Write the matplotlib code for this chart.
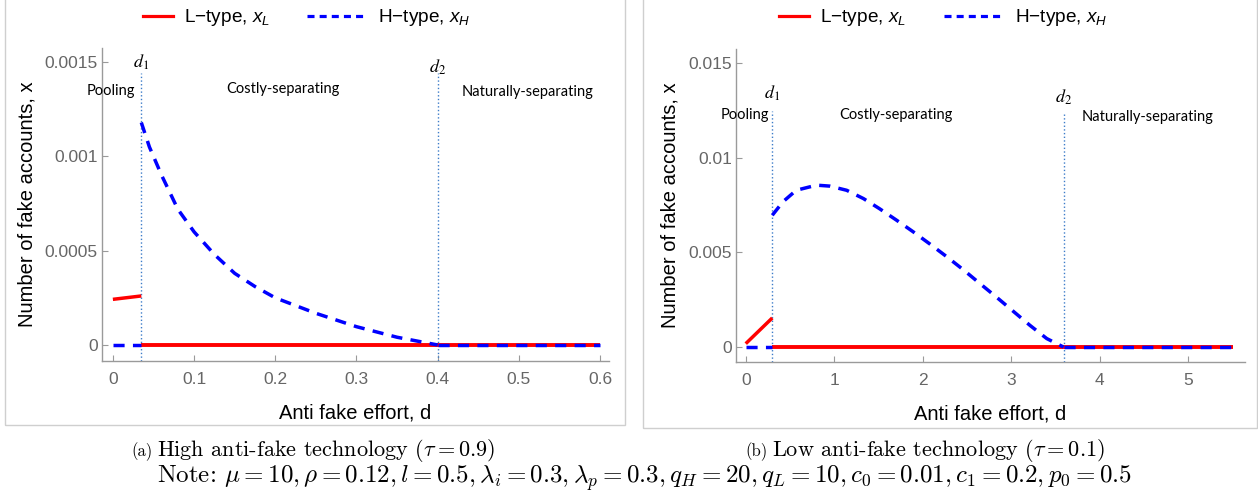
import matplotlib
matplotlib.use("Agg")
import matplotlib.pyplot as plt
from matplotlib.patches import Rectangle

# ---- data ----
# (a) high anti-fake technology, tau = 0.9
a_d1 = 0.035
a_d2 = 0.4
a_dmax = 0.6
a_L_pool_d = [0.0, 0.035]
a_L_pool_x = [0.000242, 0.00026]
a_H_cost_d = [0.035, 0.045, 0.06, 0.08, 0.10, 0.125, 0.15, 0.175, 0.20, 0.25, 0.30, 0.35, 0.40]
a_H_cost_x = [0.00118, 0.00105, 0.00090, 0.00072, 0.00060, 0.00048, 0.00038, 0.00031,
              0.00025, 0.000168, 0.000097, 0.000041, 0.0]
a_yticks = [0, 0.0005, 0.001, 0.0015]
a_yticklabels = ["0", "0.0005", "0.001", "0.0015"]
a_xticks = [0, 0.1, 0.2, 0.3, 0.4, 0.5, 0.6]
a_xticklabels = ["0", "0.1", "0.2", "0.3", "0.4", "0.5", "0.6"]

# (b) low anti-fake technology, tau = 0.1
b_d1 = 0.3
b_d2 = 3.59
b_dmax = 5.5
b_L_pool_d = [0.0, 0.3]
b_L_pool_x = [0.00018, 0.00154]
b_H_cost_d = [0.30, 0.42, 0.57, 0.80, 0.95, 1.14, 1.33, 1.51, 1.70, 1.89, 2.08, 2.27,
              2.46, 2.64, 2.83, 3.02, 3.21, 3.40, 3.59]
b_H_cost_x = [0.00697, 0.00768, 0.00829, 0.00856, 0.00851, 0.00829, 0.00785, 0.00732,
              0.00672, 0.00610, 0.00545, 0.00478, 0.00408, 0.00338, 0.00265, 0.00190,
              0.00115, 0.00045, 0.0]
b_yticks = [0, 0.005, 0.01, 0.015]
b_yticklabels = ["0", "0.005", "0.01", "0.015"]
b_xticks = [0, 1, 2, 3, 4, 5]
b_xticklabels = ["0", "1", "2", "3", "4", "5"]

regions = ["Pooling", "Costly-separating", "Naturally-separating"]

RED = "#ff0000"
BLUE = "#0000ff"
VLINE = "#3d7cc9"
GRAY = "#666666"
SANS = "Liberation Sans"

W, H = 1258, 495
fig = plt.figure(figsize=(W / 100, H / 100), dpi=100)


def px_box(x0, y0, x1, y1):
    # figure-fraction rectangle from pixel corners (top-left origin)
    return [x0 / W, 1 - y1 / H, (x1 - x0) / W, (y1 - y0) / H]


def panel(ax, d1, d2, dmax, Ld, Lx, Hd, Hx, xlim, ylim, xticks, xtl, yticks, ytl,
          lab_y, dlab_y, line_top, reg_x):
    dash = (3.2, 2.4)
    # L-type
    ax.plot(Ld, Lx, color=RED, lw=2.5, solid_capstyle="butt", zorder=3)
    ax.plot([d1, dmax], [0, 0], color=RED, lw=2.8, solid_capstyle="butt", zorder=3)
    # H-type
    ax.plot([0, d1], [0, 0], color=BLUE, lw=2.5, dashes=dash, zorder=4)
    ax.plot(Hd, Hx, color=BLUE, lw=2.5, dashes=dash, zorder=4)
    ax.plot([d2, dmax], [0, 0], color=BLUE, lw=2.5, dashes=dash, zorder=4)
    # thresholds
    for d, top in zip([d1, d2], line_top):
        ax.plot([d, d], [ylim[0], top], color=VLINE, lw=1.0, ls=":", zorder=2)
    ax.text(d1, dlab_y[0], r"$d_1$", ha="center", va="center", fontsize=13,
            math_fontfamily="stix")
    ax.text(d2, dlab_y[1], r"$d_2$", ha="center", va="center", fontsize=13,
            math_fontfamily="stix")
    for name, x, y in zip(regions, reg_x, lab_y):
        ax.text(x, y, name, ha="center", va="center", fontsize=10.5,
                family="Lato", clip_on=False)

    ax.set_xlim(*xlim)
    ax.set_ylim(*ylim)
    ax.set_xticks(xticks)
    ax.set_xticklabels(xtl)
    ax.set_yticks(yticks)
    ax.set_yticklabels(ytl)
    for s in ["top", "right"]:
        ax.spines[s].set_visible(False)
    for s in ["left", "bottom"]:
        ax.spines[s].set_color("#9a9a9a")
        ax.spines[s].set_linewidth(1.0)
    ax.tick_params(direction="in", length=4, width=0.8, color="#9a9a9a",
                   labelcolor=GRAY, labelsize=12.5)
    ax.tick_params(axis="x", pad=8)
    ax.tick_params(axis="y", pad=3)
    for t in ax.get_xticklabels() + ax.get_yticklabels():
        t.set_family(SANS)
    ax.set_xlabel("Anti fake effort, d", family=SANS, fontsize=14.5, labelpad=11.5)
    ax.set_ylabel("Number of fake accounts, x", family=SANS, fontsize=14.5, labelpad=6)


def legends(ax, x_red, x_blue, y):
    h1, = ax.plot([], [], color=RED, lw=2.3)
    h2, = ax.plot([], [], color=BLUE, lw=2.3, dashes=(2.2, 1.6))
    lg1 = ax.legend([h1], [r"L$-$type, $x_L$"], loc="center left",
                    bbox_to_anchor=(x_red / W, 1 - y / H), bbox_transform=fig.transFigure,
                    frameon=False, handlelength=1.6, handletextpad=0.55,
                    borderpad=0, borderaxespad=0, prop={"family": SANS, "size": 13.7})
    ax.add_artist(lg1)
    ax.legend([h2], [r"H$-$type, $x_H$"], loc="center left",
              bbox_to_anchor=(x_blue / W, 1 - y / H), bbox_transform=fig.transFigure,
              frameon=False, handlelength=3.15, handletextpad=0.6,
              borderpad=0, borderaxespad=0, prop={"family": SANS, "size": 13.7})


plt.rcParams["mathtext.fontset"] = "custom"
plt.rcParams["mathtext.rm"] = SANS
plt.rcParams["mathtext.it"] = SANS + ":italic"

ax1 = fig.add_axes(px_box(102, 48, 609, 361))
panel(ax1, a_d1, a_d2, a_dmax, a_L_pool_d, a_L_pool_x, a_H_cost_d, a_H_cost_x,
      (-0.0134, 0.611), (-0.000085, 0.001575), a_xticks, a_xticklabels,
      a_yticks, a_yticklabels,
      lab_y=[0.001346, 0.001357, 0.00134], dlab_y=[0.0015, 0.001473],
      line_top=[0.00144, 0.00144], reg_x=[-0.003, 0.21, 0.511])
legends(ax1, 143, 307, 18)

ax2 = fig.add_axes(px_box(736, 49, 1245, 362))
panel(ax2, b_d1, b_d2, b_dmax, b_L_pool_d, b_L_pool_x, b_H_cost_d, b_H_cost_x,
      (-0.11, 5.64), (-0.00079, 0.01576), b_xticks, b_xticklabels,
      b_yticks, b_yticklabels,
      lab_y=[0.01226, 0.01226, 0.01215], dlab_y=[0.01342, 0.01321],
      line_top=[0.01247, 0.01231], reg_x=[-0.01, 1.70, 4.54])
legends(ax2, 779, 944, 18)

# panel frames
for x0, y0, x1, y1 in [(5, -2, 625, 425), (643, -2, 1257, 428)]:
    fig.add_artist(Rectangle((x0 / W, 1 - y1 / H), (x1 - x0) / W, (y1 - y0) / H,
                             transform=fig.transFigure, fill=False,
                             edgecolor="#cfcfcf", lw=1.0))

# captions
cap = dict(family="cmr10", math_fontfamily="cm", va="center")
fig.text(153 / W, 1 - 452 / H, "(a)", ha="right", fontsize=12, **cap)
fig.text(157 / W, 1 - 451 / H, r"High anti-fake technology $(\tau=0.9)$", ha="left",
         fontsize=16, **cap)
fig.text(768 / W, 1 - 452 / H, "(b)", ha="right", fontsize=12, **cap)
fig.text(772 / W, 1 - 451 / H, r"Low anti-fake technology $(\tau=0.1)$", ha="left",
         fontsize=16, **cap)
fig.text(645 / W, 1 - 478 / H,
         r"Note: $\mu=10,\rho=0.12,l=0.5,\lambda_i=0.3,\lambda_p=0.3,q_H=20,"
         r"q_L=10,c_0=0.01,c_1=0.2,p_0=0.5$", ha="center", fontsize=18, **cap)

fig.savefig("out.png", dpi=100)
